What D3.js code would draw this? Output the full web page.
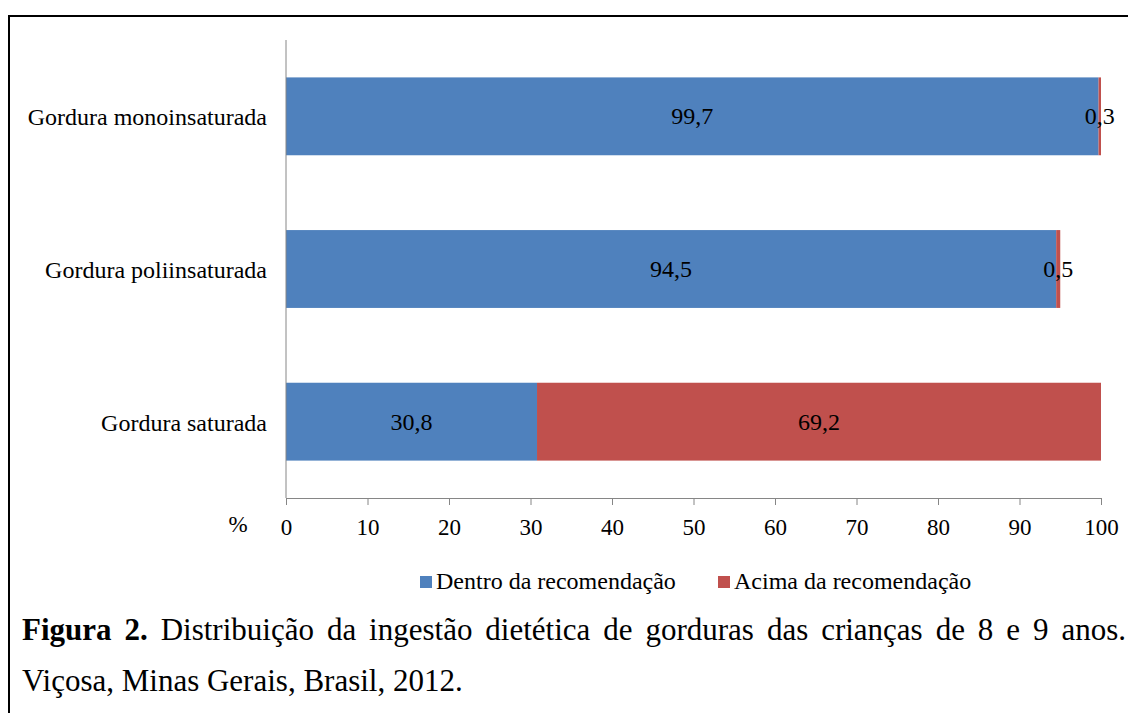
<!DOCTYPE html>
<html>
<head>
<meta charset="utf-8">
<script src="https://cdn.jsdelivr.net/npm/d3@7"></script>
<style>
  body { margin: 0; background: #fff; overflow: hidden; }
  #wrap { position: relative; width: 1128px; height: 713px; overflow: hidden; }
  svg text { font-family: "Liberation Serif", "Times New Roman", serif; fill: #000; }
  .caption {
    position: absolute; left: 22px; width: 1104px; white-space: nowrap;
    font-family: "Liberation Serif", "Times New Roman", serif;
    font-size: 31px; line-height: 50px; color: #000;
  }
  .line1 { top: 605px; text-align: justify; text-align-last: justify; }
  .line2 { top: 656px; text-align: left; }
</style>
</head>
<body>
<div id="wrap"></div>
<script>
// categories, top to bottom
var categories = ["Gordura monoinsaturada", "Gordura poliinsaturada", "Gordura saturada"];
var seriesNames = ["Dentro da recomendação", "Acima da recomendação"];
var dentro = [99.7, 94.5, 30.8];
var acima = [0.3, 0.5, 69.2];
var xTicks = [0, 10, 20, 30, 40, 50, 60, 70, 80, 90, 100];
var colors = ["#4f81bd", "#c0504d"];

var width = 1128, height = 713;
var wrap = d3.select("#wrap");
var svg = wrap.append("svg").attr("width", width).attr("height", height);

// outer frame
svg.append("rect")
  .attr("x", 9).attr("y", 16)
  .attr("width", 1200).attr("height", 800)
  .attr("fill", "none").attr("stroke", "#000").attr("stroke-width", 2);

var x = d3.scaleLinear().domain([0, 100]).range([286, 1101]);
var y = d3.scaleBand().domain(categories).range([40, 498]).paddingInner(0.49).paddingOuter(0.245);

var rows = categories.map(function(c, i) {
  return { cat: c, vals: [dentro[i], acima[i]] };
});

// bars + value labels
rows.forEach(function(r) {
  var start = 0;
  r.vals.forEach(function(v, j) {
    svg.append("rect")
      .attr("x", x(start))
      .attr("y", y(r.cat))
      .attr("width", x(start + v) - x(start))
      .attr("height", y.bandwidth())
      .attr("fill", colors[j]);
    svg.append("text")
      .attr("x", x(start + v / 2))
      .attr("y", y(r.cat) + y.bandwidth() / 2 + 8)
      .attr("text-anchor", "middle")
      .style("font-size", "24px")
      .text(String(v).replace(".", ","));
    start += v;
  });
});

// x axis
var xAxis = svg.append("g")
  .attr("transform", "translate(0,498)")
  .call(d3.axisBottom(x).tickValues(xTicks).tickSize(7).tickPadding(14).tickFormat(d3.format("d")));
xAxis.select(".domain").attr("stroke", "#868686");
xAxis.selectAll(".tick line").attr("stroke", "#868686");
xAxis.selectAll(".tick text")
  .style("font-size", "23px").attr("fill", "#000");

// y axis line
svg.append("line")
  .attr("x1", 286).attr("x2", 286).attr("y1", 40).attr("y2", 498)
  .attr("stroke", "#868686");

// category labels
svg.selectAll(".cat")
  .data(categories)
  .enter().append("text")
  .attr("class", "cat")
  .attr("x", 267)
  .attr("y", function(d) { return y(d) + y.bandwidth() / 2 + 9; })
  .attr("text-anchor", "end")
  .style("font-size", "24px")
  .text(function(d) { return d; });

// % label
svg.append("text")
  .attr("x", 238).attr("y", 532)
  .attr("text-anchor", "middle")
  .style("font-size", "23px")
  .text("%");

// legend
var legendX = [420, 718];
seriesNames.forEach(function(name, i) {
  svg.append("rect")
    .attr("x", legendX[i]).attr("y", 576)
    .attr("width", 12).attr("height", 12)
    .attr("fill", colors[i]);
  svg.append("text")
    .attr("x", legendX[i] + 16).attr("y", 589)
    .style("font-size", "24px")
    .text(name);
});

// caption (first line justified, as in the source figure)
var cap1 = wrap.append("div").attr("class", "caption line1");
cap1.append("b").text("Figura 2.");
cap1.append("span").text(" Distribuição da ingestão dietética de gorduras das crianças de 8 e 9 anos.");
wrap.append("div").attr("class", "caption line2")
  .text("Viçosa, Minas Gerais, Brasil, 2012.");
</script>
</body>
</html>
